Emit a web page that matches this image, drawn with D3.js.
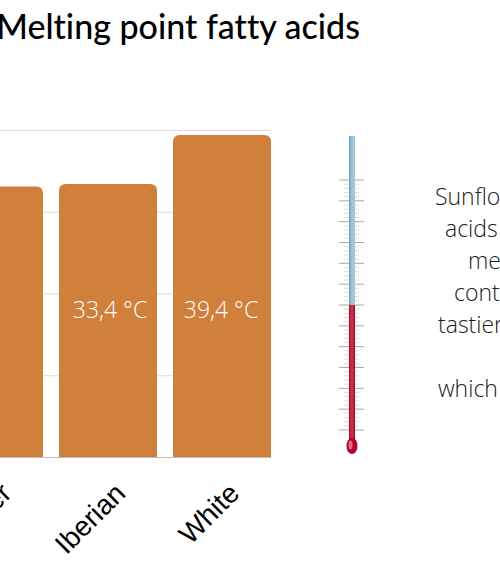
<!DOCTYPE html>
<html>
<head>
<meta charset="utf-8">
<script src="https://cdn.jsdelivr.net/npm/d3@7"></script>
<style>
  html, body { margin: 0; padding: 0; background: #fff; overflow: hidden; }
  svg { display: block; }
  .title { font-family: Lato, sans-serif; font-size: 34px; font-weight: 500; fill: #000; font-variant-ligatures: none; }
  .bar-label { font-family: "Open Sans", sans-serif; font-size: 23px; font-weight: 300; fill: #fff; text-anchor: middle; }
  .side-text { font-family: "Open Sans", sans-serif; font-size: 23px; font-weight: 300; fill: #222; }
  .x-axis text { font-family: "Liberation Sans", Arial, sans-serif; font-size: 28px; fill: #000; }
</style>
</head>
<body>
<svg width="500" height="586"></svg>
<script>
const categories = ['Sunflower', 'Iberian', 'White'];
const meltingPoints = [33.1, 33.4, 39.4];
const barLabels = ['', '33,4 °C', '39,4 °C'];
const yTicks = [0, 10, 20, 30, 40];
const thermoMajorTicks = [0, 5, 10, 15, 20, 25, 30, 35, 40, 45, 50, 55, 60];
const thermoMinorTicks = d3.range(0, 60).filter(d => d % 5 !== 0);
const mercuryLevel = 30;
const sideLines = [
  { text: 'Sunflower', x: 435, line: 0 },
  { text: 'acids', x: 445, line: 1 },
  { text: 'me', x: 468, line: 2 },
  { text: 'cont', x: 454, line: 3 },
  { text: 'tastier', x: 438, line: 4 },
  { text: 'which', x: 438, line: 6 }
];

const svg = d3.select('svg');

svg.append('text')
  .attr('class', 'title')
  .attr('x', 360)
  .attr('y', 39)
  .attr('text-anchor', 'end')
  .text('Melting point fatty acids');

const xScale = d3.scaleBand()
  .domain(categories)
  .range([-55, 271])
  .paddingInner(16 / 114)
  .paddingOuter(0);

const yScale = d3.scaleLinear()
  .domain([0, 40])
  .range([457, 130]);

// gridlines, labels are off the left edge in the reference
const yAxisG = svg.append('g')
  .attr('transform', 'translate(271,0)')
  .call(d3.axisLeft(yScale).tickValues(yTicks).tickSize(326).tickFormat(''));
yAxisG.select('.domain').remove();
yAxisG.selectAll('.tick line').attr('stroke', '#dcdcdc');

const barPath = (d, i) => {
  const x0 = xScale(categories[i]);
  const x1 = x0 + xScale.bandwidth();
  const top = yScale(d);
  const base = yScale(0);
  const r = 7;
  return `M${x0},${base}V${top + r}Q${x0},${top} ${x0 + r},${top}H${x1 - r}Q${x1},${top} ${x1},${top + r}V${base}Z`;
};

svg.selectAll('.bar').data(meltingPoints)
  .enter().append('path')
    .attr('class', 'bar')
    .attr('fill', '#d1803c')
    .attr('d', barPath);

svg.selectAll('.bar-label').data(barLabels)
  .enter().append('text')
    .attr('class', 'bar-label')
    .attr('x', (d, i) => xScale(categories[i]) + xScale.bandwidth() / 2 + (i === 1 ? 2 : -1))
    .attr('y', 318)
    .text(d => d);

const xAxisG = svg.append('g')
  .attr('class', 'x-axis')
  .attr('transform', `translate(0,${yScale(0)})`)
  .call(d3.axisBottom(xScale).tickSize(0).tickPadding(0));
xAxisG.select('.domain').attr('stroke', '#bdbdbd');
xAxisG.selectAll('text')
  .attr('text-anchor', 'end')
  .attr('dy', 0)
  .attr('y', 0)
  .attr('transform', 'translate(19,38) rotate(-45)');

// thermometer
const thermoScale = d3.scaleLinear()
  .domain([0, 60])
  .range([430, 180]);
const thermoX = 352;

const thermo = svg.append('g');

thermo.selectAll('.minor').data(thermoMinorTicks)
  .enter().append('line')
    .attr('class', 'minor')
    .attr('x1', thermoX - 8).attr('x2', thermoX + 7)
    .attr('y1', d => thermoScale(d)).attr('y2', d => thermoScale(d))
    .attr('stroke', '#dedede');

thermo.selectAll('.major').data(thermoMajorTicks)
  .enter().append('line')
    .attr('class', 'major')
    .attr('x1', thermoX - 13).attr('x2', thermoX + 12)
    .attr('y1', d => thermoScale(d)).attr('y2', d => thermoScale(d))
    .attr('stroke', '#a8a8a8');

const defs = svg.append('defs');
const glassGrad = defs.append('linearGradient').attr('id', 'glass');
glassGrad.append('stop').attr('offset', '0%').attr('stop-color', '#6f9ebc');
glassGrad.append('stop').attr('offset', '50%').attr('stop-color', '#9fc7df');
glassGrad.append('stop').attr('offset', '80%').attr('stop-color', '#9fc7df');
glassGrad.append('stop').attr('offset', '100%').attr('stop-color', '#b8bdc0');
const redGrad = defs.append('linearGradient').attr('id', 'red');
redGrad.append('stop').attr('offset', '0%').attr('stop-color', '#b30228');
redGrad.append('stop').attr('offset', '50%').attr('stop-color', '#cc3d58');
redGrad.append('stop').attr('offset', '100%').attr('stop-color', '#a60026');

thermo.append('rect')
  .attr('x', thermoX - 3).attr('width', 6)
  .attr('y', 136).attr('height', thermoScale(mercuryLevel) - 136)
  .attr('fill', 'url(#glass)');
thermo.append('rect')
  .attr('x', thermoX - 3).attr('width', 6)
  .attr('y', thermoScale(mercuryLevel)).attr('height', 442 - thermoScale(mercuryLevel))
  .attr('fill', 'url(#red)');
thermo.append('ellipse')
  .attr('cx', thermoX).attr('cy', 446)
  .attr('rx', 5.5).attr('ry', 8)
  .attr('fill', '#b50429');
thermo.append('ellipse')
  .attr('cx', thermoX - 1.5).attr('cy', 445)
  .attr('rx', 2).attr('ry', 4.5)
  .attr('fill', '#dc6a84');

svg.selectAll('.side-text').data(sideLines)
  .enter().append('text')
    .attr('class', 'side-text')
    .attr('x', d => d.x)
    .attr('y', d => 205 + d.line * 32)
    .text(d => d.text);
</script>
</body>
</html>
